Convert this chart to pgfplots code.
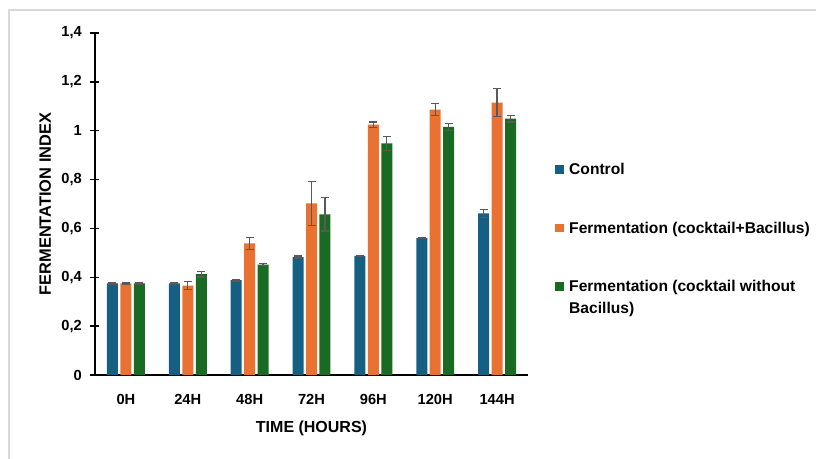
\documentclass[border=0pt]{standalone}
\usepackage{pgfplots}
\pgfplotsset{compat=1.18}
\usepackage{fontspec}
\setmainfont{Liberation Sans}
\definecolor{cctrl}{HTML}{156082}
\definecolor{corange}{HTML}{E97132}
\definecolor{cgreen}{HTML}{196B24}
\definecolor{cerr}{HTML}{595959}
\definecolor{cframe}{HTML}{D9D9D9}
\begin{document}
\begin{tikzpicture}[x=1pt,y=1pt]
\useasboundingbox (-71.25,-63) rectangle (540.75,281.25);
\draw[cframe,line width=1.5pt] (-64.5,-70) -- (-64.5,273.75) -- (560,273.75);
\begin{axis}[
  at={(0,0)}, anchor=south west,
  scale only axis, width=324.75pt, height=256.5pt,
  xmin=-0.5, xmax=6.5, ymin=0, ymax=1.4,
  axis x line=bottom, axis y line=left,
  axis line style={-, line width=1pt, black},
  xtick=data, xticklabels={0H,24H,48H,72H,96H,120H,144H},
  xtick style={draw=none},
  ytick={0,0.2,...,1.4},
  tick align=center, major tick length=6.75pt,
  ytick style={line width=1pt, black},
  /pgf/number format/.cd, use comma, fixed, assume math mode=true, /pgfplots/.cd,
  ticklabel style={font=\bfseries\fontsize{11}{13}\selectfont},
  yticklabel style={xshift=-3pt},
  xticklabel style={yshift=-4pt},
  xlabel={TIME (HOURS)}, ylabel={FERMENTATION INDEX},
  xlabel style={font=\bfseries\fontsize{12}{14}\selectfont, at={(axis description cs:0.5,-0.155)}, anchor=center},
  ylabel style={font=\bfseries\fontsize{12.3}{14}\selectfont, at={(axis description cs:-0.115,0.5)}, anchor=center},
  ybar, bar width=8.25pt,
  error bars/y dir=both, error bars/y explicit,
  error bars/error bar style={cerr, line width=1pt},
  error bars/error mark options={rotate=90, cerr, mark size=3pt, line width=1pt},
  legend style={draw=none, fill=none, at={(axis description cs:1.053,0.636)}, anchor=north west,
    font=\bfseries\fontsize{11.7}{16.5}\selectfont, row sep=30pt, column sep=2pt,
    cells={anchor=base west}},
  legend image code/.code={\fill[#1] (0pt,0.6pt) rectangle (6.5pt,7.1pt);},
]
\addplot[fill=cctrl, draw=none, bar shift=-10.1pt] coordinates {
(0,0.375) +- (0,0.002) (1,0.375) +- (0,0.003) (2,0.388) +- (0,0.003) (3,0.483) +- (0,0.004)
(4,0.488) +- (0,0.002) (5,0.561) +- (0,0.002) (6,0.662) +- (0,0.016)};
\addplot[fill=corange, draw=none, bar shift=0pt] coordinates {
(0,0.375) +- (0,0.002) (1,0.366) +- (0,0.016) (2,0.539) +- (0,0.024) (3,0.703) +- (0,0.090)
(4,1.025) +- (0,0.011) (5,1.086) +- (0,0.025) (6,1.115) +- (0,0.057)};
\addplot[fill=cgreen, draw=none, bar shift=10.1pt] coordinates {
(0,0.375) +- (0,0.002) (1,0.413) +- (0,0.012) (2,0.452) +- (0,0.004) (3,0.658) +- (0,0.069)
(4,0.948) +- (0,0.029) (5,1.016) +- (0,0.014) (6,1.049) +- (0,0.013)};
\legend{Control, Fermentation (cocktail+Bacillus), {\vtop{\hbox{Fermentation (cocktail without}\hbox{Bacillus)}}}}
\end{axis}
\end{tikzpicture}
\end{document}
